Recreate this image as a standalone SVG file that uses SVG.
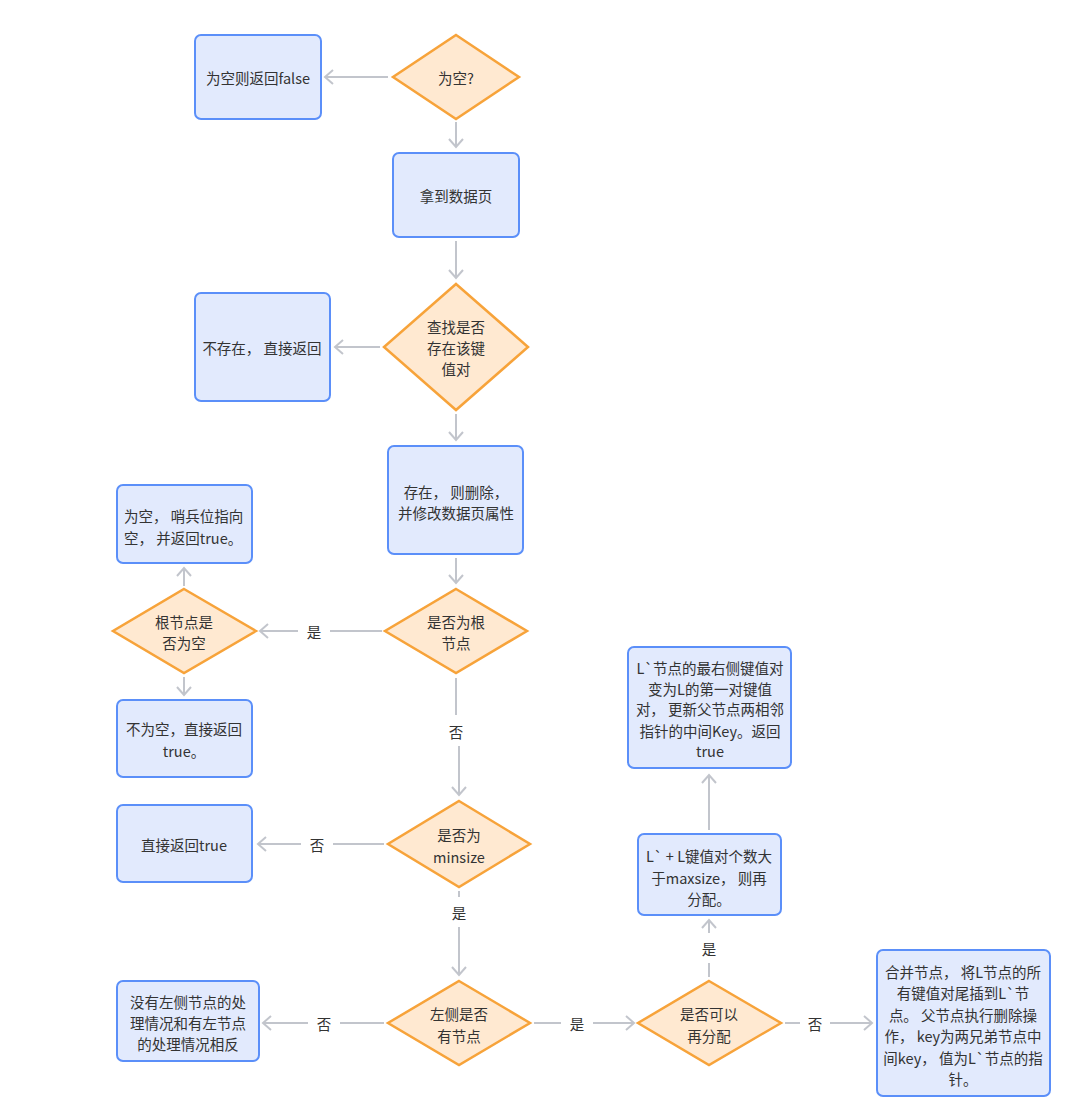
<svg xmlns="http://www.w3.org/2000/svg" width="1078" height="1117" viewBox="0 0 1078 1117">
<style>
.r{fill:#E2EAFD;stroke:#5B8FF9;stroke-width:2}
.d{fill:#FFE9D1;stroke:#F7A33A;stroke-width:2.5;stroke-linejoin:miter}
.c{fill:none;stroke:#C2C5CC;stroke-width:2}
text{font-family:"Noto Sans CJK SC","Noto Sans",sans-serif;font-size:14.5px;fill:#333;text-anchor:middle;dominant-baseline:central}
.l{text-anchor:start}
</style>
<defs>
<marker id="a" markerUnits="userSpaceOnUse" markerWidth="20" markerHeight="20" viewBox="-10 -10 20 20" refX="0" refY="0" orient="auto">
<path d="M-8,-7 L0,0 L-8,7" fill="none" stroke="#C2C5CC" stroke-width="2"/>
</marker>
</defs>
<rect width="1078" height="1117" fill="#fff"/>
<g id="connectors">
<path class="c" d="M388,77 H325" marker-end="url(#a)"/>
<path class="c" d="M456,122 V147" marker-end="url(#a)"/>
<path class="c" d="M456,241 V278" marker-end="url(#a)"/>
<path class="c" d="M380,347 H335" marker-end="url(#a)"/>
<path class="c" d="M456,414 V440" marker-end="url(#a)"/>
<path class="c" d="M456,558 V583" marker-end="url(#a)"/>
<path class="c" d="M382,631 H330"/>
<path class="c" d="M298,631 H260" marker-end="url(#a)"/>
<path class="c" d="M184,586 V568" marker-end="url(#a)"/>
<path class="c" d="M184,677 V695" marker-end="url(#a)"/>
<path class="c" d="M456,678 V715"/>
<path class="c" d="M459,746 V795" marker-end="url(#a)"/>
<path class="c" d="M384,844 H333"/>
<path class="c" d="M301,844 H258" marker-end="url(#a)"/>
<path class="c" d="M459,891 V897"/>
<path class="c" d="M459,927 V975" marker-end="url(#a)"/>
<path class="c" d="M384,1023 H340"/>
<path class="c" d="M308,1023 H263" marker-end="url(#a)"/>
<path class="c" d="M534,1023 H561"/>
<path class="c" d="M593,1023 H634" marker-end="url(#a)"/>
<path class="c" d="M785,1023 H800"/>
<path class="c" d="M830,1023 H872" marker-end="url(#a)"/>
<path class="c" d="M709,977 V963"/>
<path class="c" d="M709,933 V920" marker-end="url(#a)"/>
<path class="c" d="M709,830 V775" marker-end="url(#a)"/>
<text x="314" y="631">是</text>
<text x="456" y="731">否</text>
<text x="317" y="844">否</text>
<text x="459" y="912">是</text>
<text x="324" y="1023">否</text>
<text x="577" y="1023">是</text>
<text x="815" y="1023">否</text>
<text x="709" y="948">是</text>
</g>
<g id="n1"><rect class="r" x="195" y="35" width="126" height="84" rx="6"/><text x="258" y="77">为空则返回false</text></g>
<g id="n2"><polygon class="d" points="456,35 519,77 456,119 393,77"/><text x="456" y="77">为空?</text></g>
<g id="n3"><rect class="r" x="393" y="153" width="126" height="84" rx="6"/><text x="456" y="195">拿到数据页</text></g>
<g id="n4"><polygon class="d" points="456,284 528,347 456,410 384,347"/><text x="456" y="326">查找是否</text><text x="456" y="347">存在该键</text><text x="456" y="368">值对</text></g>
<g id="n5"><rect class="r" x="195" y="293" width="135" height="108" rx="6"/><text x="262" y="347">不存在， 直接返回</text></g>
<g id="n6"><rect class="r" x="388" y="446" width="135" height="108" rx="6"/><text x="456" y="491">存在， 则删除，</text><text x="456" y="512">并修改数据页属性</text></g>
<g id="n7"><polygon class="d" points="456,589 527,631 456,673 385,631"/><text x="456" y="621">是否为根</text><text x="456" y="642">节点</text></g>
<g id="n8"><polygon class="d" points="184,589 256,631 184,673 113,631"/><text x="184" y="621">根节点是</text><text x="184" y="642">否为空</text></g>
<g id="n9"><rect class="r" x="117" y="485" width="135" height="78" rx="6"/><text class="l" x="124" y="515">为空， 哨兵位指向</text><text class="l" x="124" y="537">空， 并返回true。</text></g>
<g id="n10"><rect class="r" x="117" y="700" width="135" height="77" rx="6"/><text x="184" y="728">不为空，直接返回</text><text x="184" y="750">true。</text></g>
<g id="n11"><polygon class="d" points="459,801 530,844 459,887 388,844"/><text x="459" y="834">是否为</text><text x="459" y="856">minsize</text></g>
<g id="n12"><rect class="r" x="117" y="805" width="135" height="77" rx="6"/><text x="184" y="844">直接返回true</text></g>
<g id="n13"><polygon class="d" points="459,981 530,1023 459,1065 388,1023"/><text x="459" y="1013">左侧是否</text><text x="459" y="1035">有节点</text></g>
<g id="n14"><rect class="r" x="117" y="981" width="142" height="80" rx="6"/><text x="188" y="1001">没有左侧节点的处</text><text x="188" y="1022">理情况和有左节点</text><text x="188" y="1043">的处理情况相反</text></g>
<g id="n15"><polygon class="d" points="709,981 781,1023 709,1065 638,1023"/><text x="709" y="1013">是否可以</text><text x="709" y="1035">再分配</text></g>
<g id="n16"><rect class="r" x="877" y="950" width="173" height="146" rx="6"/><text x="963" y="971">合并节点， 将L节点的所</text><text x="963" y="992">有键值对尾插到L`节</text><text x="963" y="1014">点。 父节点执行删除操</text><text x="963" y="1035">作， key为两兄弟节点中</text><text x="963" y="1057">间key， 值为L`节点的指</text><text x="963" y="1078">针。</text></g>
<g id="n17"><rect class="r" x="638" y="834" width="143" height="81" rx="6"/><text x="709" y="855">L` + L键值对个数大</text><text x="709" y="877">于maxsize， 则再</text><text x="709" y="898">分配。</text></g>
<g id="n18"><rect class="r" x="628" y="647" width="163" height="121" rx="6"/><text x="710" y="667">L`节点的最右侧键值对</text><text x="710" y="688">变为L的第一对键值</text><text x="710" y="708">对， 更新父节点两相邻</text><text x="710" y="730">指针的中间Key。返回</text><text x="710" y="750">true</text></g>
</svg>
